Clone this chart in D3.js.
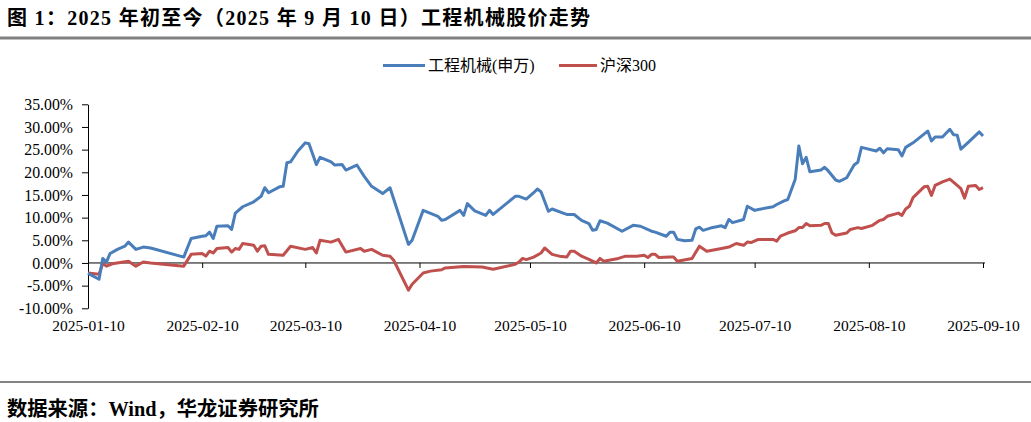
<!DOCTYPE html>
<html>
<head>
<meta charset="utf-8">
<script src="https://cdn.jsdelivr.net/npm/d3@7"></script>
<style>
  html, body { margin: 0; padding: 0; background: #fff; }
  svg { display: block; }
  text { font-family: "Liberation Serif", "Noto Sans CJK SC", serif; }
</style>
</head>
<body>
<svg id="chart" width="1031" height="422"></svg>
<script>
// ---------- data ----------
const titleText = "图 1：2025 年初至今（2025 年 9 月 10 日）工程机械股价走势";
const sourceText = "数据来源：Wind，华龙证券研究所";
const seriesNames = ["工程机械(申万)", "沪深300"];

const xTickLabels = ["2025-01-10","2025-02-10","2025-03-10","2025-04-10","2025-05-10",
                     "2025-06-10","2025-07-10","2025-08-10","2025-09-10"];
const yTickValues = [-10, -5, 0, 5, 10, 15, 20, 25, 30, 35];

const blueDates = [
"01-10","01-13","01-14","01-15","01-16","01-18","01-20","01-21","01-23","01-25","01-27",
"02-05","02-07","02-10","02-11","02-12","02-13","02-14","02-17","02-18","02-19","02-21",
"02-24","02-26","02-27","02-28","03-03","03-04","03-05","03-06","03-08","03-10","03-11",
"03-13","03-14","03-17","03-18","03-20","03-21","03-24","03-26","03-28","03-31","04-02",
"04-07","04-08","04-11","04-15","04-16","04-17","04-21","04-22","04-23","04-25","04-28",
"04-29","04-30","05-06","05-07","05-09","05-11","05-12","05-13","05-15","05-16","05-19",
"05-20","05-22","05-24","05-26","05-27","05-28","05-29","05-31","06-04","06-07","06-09",
"06-12","06-13","06-16","06-17","06-18","06-19","06-21","06-23","06-24","06-25","06-26",
"06-28","07-01","07-02","07-03","07-04","07-07","07-08","07-10","07-11","07-15","07-16",
"07-18","07-19","07-21","07-22","07-23","07-24","07-25","07-28","07-29","07-30","08-01",
"08-02","08-04","08-06","08-07","08-08","08-12","08-13","08-14","08-15","08-18","08-19",
"08-20","08-22","08-26","08-27","08-28","08-30","09-01","09-02","09-03","09-04","09-06",
"09-09","09-10"];
const blueValues = [
-2.3,-3.6,1.0,0.2,2.1,3.0,3.7,4.6,3.0,3.5,3.3,
1.3,5.4,5.9,6.0,6.8,5.4,8.1,8.2,7.4,11.0,12.4,
13.5,14.7,16.6,15.5,16.8,16.9,22.1,22.3,24.7,26.5,26.3,
21.7,23.3,22.3,21.6,21.7,20.5,21.6,19.1,16.9,15.3,16.6,
4.1,5.0,11.6,10.3,9.4,9.6,11.6,10.5,13.1,11.5,10.5,
11.6,10.7,14.7,14.7,14.1,15.5,16.3,15.7,11.4,11.9,11.0,
10.7,10.7,9.4,8.7,7.2,7.4,9.3,8.8,7.0,8.3,8.1,
7.0,6.8,5.9,6.8,6.8,5.2,4.9,5.0,7.5,7.9,7.2,
7.7,8.2,7.8,9.6,8.9,9.6,12.5,11.6,11.8,12.4,12.9,
13.7,14.0,18.4,25.8,21.9,23.3,20.1,20.5,21.1,20.3,18.3,
18.0,18.8,21.6,22.2,25.5,24.7,25.3,24.3,25.2,25.0,23.6,
25.5,26.5,29.1,26.9,27.8,27.8,29.5,28.3,28.2,25.1,26.6,
28.9,28.0];

const redDates = [
"01-10","01-13","01-14","01-15","01-17","01-21","01-23","01-25","01-27",
"02-05","02-07","02-10","02-11","02-12","02-13","02-14","02-17","02-18","02-19","02-20",
"02-21","02-24","02-25","02-26","02-27","02-28","03-04","03-06","03-10","03-12","03-13",
"03-14","03-17","03-19","03-21","03-25","03-26","03-28","03-31","04-02","04-03","04-07",
"04-08","04-11","04-13","04-16","04-17","04-22","04-27","04-30","05-06","05-07","05-08",
"05-09","05-11","05-13","05-14","05-16","05-18","05-20","05-21","05-22","05-24","05-26",
"05-28","05-29","05-30","06-03","06-05","06-08","06-10","06-11","06-12","06-13","06-14",
"06-17","06-18","06-19","06-23","06-25","06-27","07-01","07-03","07-05","07-07","07-08",
"07-09","07-11","07-15","07-16","07-17","07-19","07-21","07-22","07-23","07-24","07-25",
"07-28","07-29","07-30","07-31","08-01","08-04","08-05","08-07","08-08","08-11","08-13",
"08-14","08-15","08-18","08-19","08-20","08-21","08-22","08-25","08-26","08-27","08-28",
"08-30","09-01","09-03","09-04","09-05","09-06","09-08","09-09","09-10"];
const redValues = [
-2.2,-2.5,-0.1,-0.7,-0.1,0.4,-0.7,0.2,0.0,
-0.7,1.9,2.1,1.5,2.6,2.2,3.2,3.4,2.4,3.2,3.0,
4.3,3.9,2.6,3.7,3.8,1.9,1.7,3.7,3.0,3.4,2.2,
5.0,4.6,5.2,2.4,3.2,2.6,3.0,1.7,1.5,0.6,-6.0,
-4.7,-2.2,-1.8,-1.5,-1.1,-0.8,-0.9,-1.4,-0.3,0.2,1.0,
0.75,1.3,2.2,3.3,1.9,1.5,1.3,2.6,2.6,1.5,0.8,
0.0,1.0,0.4,1.0,1.5,1.5,1.7,1.2,1.9,1.9,1.2,
1.3,1.3,0.4,1.0,3.7,2.6,3.2,3.5,4.3,3.9,4.6,
4.5,5.2,5.2,4.8,5.9,6.6,7.1,7.8,7.8,8.7,8.2,
8.3,8.7,8.7,6.6,6.1,6.6,7.4,7.8,7.6,8.3,9.4,
9.6,10.3,11.0,10.5,11.9,12.5,14.4,16.8,16.9,14.9,17.1,
17.9,18.5,17.1,16.4,14.3,16.9,17.1,16.2,16.6];

// ---------- drawing ----------
const parse = d3.utcParse("%Y-%m-%d");
const svg = d3.select("#chart");

const x = d3.scaleUtc()
  .domain([parse("2025-01-10"), parse("2025-09-10")])
  .range([88, 983]);
const y = d3.scaleLinear().domain([-10, 35]).range([308.3, 104.3]);

// header
svg.append("text").attr("x", 7).attr("y", 25)
  .attr("font-size", 20).attr("letter-spacing", 1.3)
  .attr("font-weight", "bold").attr("fill", "#000")
  .text(titleText);
svg.append("line").attr("x1", 0).attr("x2", 1031).attr("y1", 38).attr("y2", 38)
  .attr("stroke", "#808080").attr("stroke-width", 3);

// footer
svg.append("line").attr("x1", 0).attr("x2", 1031).attr("y1", 382).attr("y2", 382)
  .attr("stroke", "#5a5a5a").attr("stroke-width", 1.5);
svg.append("text").attr("x", 7).attr("y", 416)
  .attr("font-size", 20.3).attr("font-weight", "bold").attr("fill", "#000")
  .text(sourceText);

// y axis
const fmt = v => v.toFixed(2) + "%";
const yAxis = svg.append("g").attr("transform", "translate(88,0)")
  .call(d3.axisLeft(y).tickValues(yTickValues).tickFormat(fmt)
        .tickSize(6).tickSizeOuter(0).tickPadding(9));
yAxis.selectAll("text").attr("font-size", 15.8).attr("fill", "#000")
  .style("font-family", '"Liberation Serif", serif');
yAxis.selectAll("line, path").attr("stroke", "#000").attr("stroke-width", 1);

// x axis line at zero with ticks
const xTickDates = xTickLabels.map(parse);
const xAxis = svg.append("g").attr("transform", `translate(0,${y(0)})`)
  .call(d3.axisBottom(x).tickValues(xTickDates).tickFormat("")
        .tickSize(5).tickSizeOuter(0));
xAxis.select(".domain").attr("d", `M88,0H985`);
xAxis.selectAll("line, path").attr("stroke", "#000").attr("stroke-width", 1);

// x labels at bottom
const xLab = svg.append("g").attr("transform", `translate(0,${y(-10)})`)
  .call(d3.axisBottom(x).tickValues(xTickDates).tickFormat(d3.utcFormat("%Y-%m-%d"))
        .tickSize(0).tickPadding(12));
xLab.select(".domain").remove();
xLab.selectAll("text").attr("font-size", 15.5).attr("fill", "#000")
  .style("font-family", '"Liberation Serif", serif');

// series
const line = d3.line().x(d => x(d[0])).y(d => y(d[1]));
const blueData = blueDates.map((d, i) => [parse("2025-" + d), blueValues[i]]);
const redData = redDates.map((d, i) => [parse("2025-" + d), redValues[i]]);
const colors = ["#4a7ebb", "#c0504d"];

svg.append("path").datum(redData).attr("d", line)
  .attr("fill", "none").attr("stroke", colors[1]).attr("stroke-width", 3)
  .attr("stroke-linejoin", "round");
svg.append("path").datum(blueData).attr("d", line)
  .attr("fill", "none").attr("stroke", colors[0]).attr("stroke-width", 3)
  .attr("stroke-linejoin", "round");

// legend
const legend = [
  {name: seriesNames[0], color: colors[0], x1: 383, x2: 425, tx: 428},
  {name: seriesNames[1], color: colors[1], x1: 559, x2: 597, tx: 600}
];
legend.forEach(l => {
  svg.append("line").attr("x1", l.x1).attr("x2", l.x2).attr("y1", 65.5).attr("y2", 65.5)
    .attr("stroke", l.color).attr("stroke-width", 3);
  svg.append("text").attr("x", l.tx).attr("y", 71).attr("font-size", 16)
    .attr("fill", "#000").text(l.name);
});
</script>
</body>
</html>
